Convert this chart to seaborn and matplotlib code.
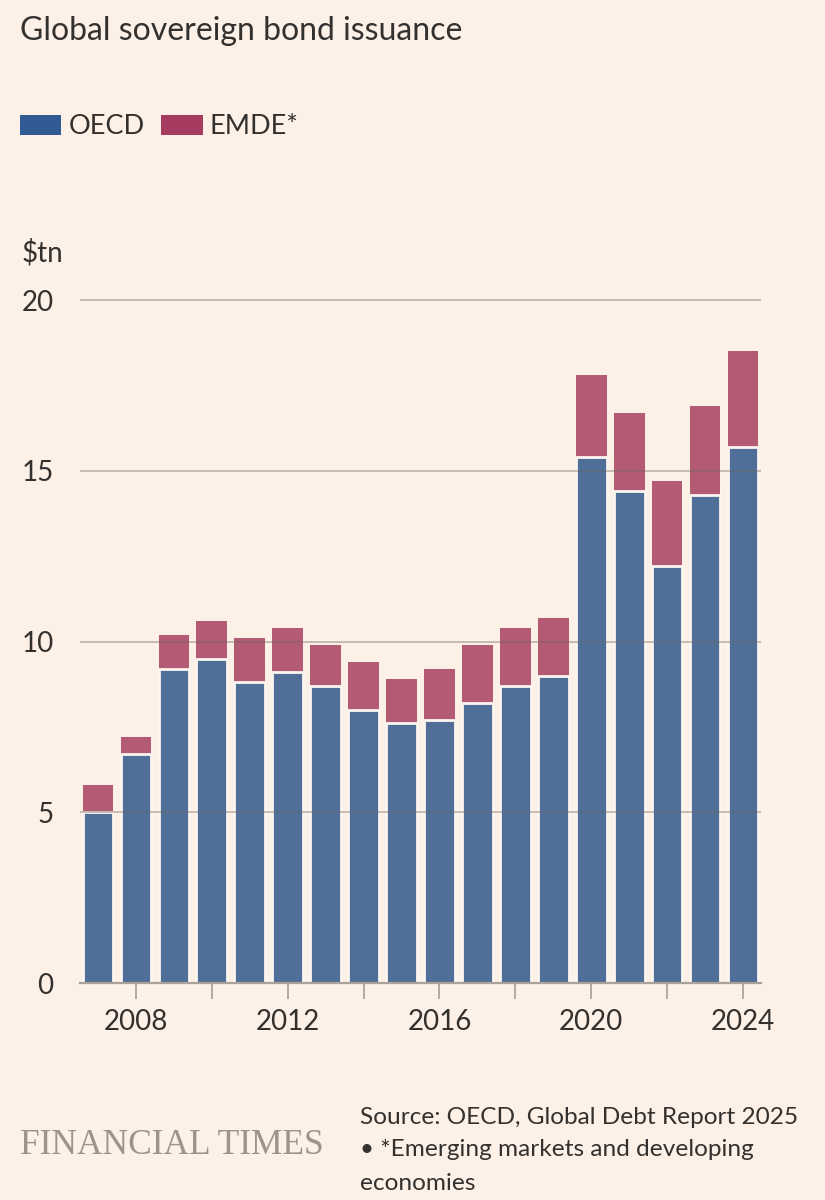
import matplotlib
matplotlib.use("Agg")
import matplotlib.pyplot as plt
from matplotlib.patches import Patch
import seaborn as sns
import pandas as pd

# ---- data ----
years = [2007, 2008, 2009, 2010, 2011, 2012, 2013, 2014, 2015,
         2016, 2017, 2018, 2019, 2020, 2021, 2022, 2023, 2024]
oecd = [5.0, 6.7, 9.2, 9.5, 8.8, 9.1, 8.7, 8.0, 7.6,
        7.7, 8.2, 8.7, 9.0, 15.4, 14.4, 12.2, 14.3, 15.7]
emde = [0.8, 0.5, 1.0, 1.1, 1.3, 1.3, 1.2, 1.4, 1.3,
        1.5, 1.7, 1.7, 1.7, 2.4, 2.3, 2.5, 2.6, 2.8]
y_ticks = [0, 5, 10, 15, 20]
series_names = ["OECD", "EMDE*"]

BG = "#fcf0e7"
TXT = "#33302e"
BLUE_BAR = "#4f6f99"
RED_BAR = "#b35b74"
BLUE_KEY = "#2f5a94"
RED_KEY = "#a63a5f"

df = pd.DataFrame({
    "year": [str(y) for y in years],
    "OECD": oecd,
    "EMDE": emde,
})
df["total"] = df["OECD"] + df["EMDE"]

sns.set_theme(style="white")
plt.rcParams["font.family"] = ["Lato", "DejaVu Sans"]

fig = plt.figure(figsize=(8.25, 12), dpi=100, facecolor=BG)
ax = fig.add_axes([80 / 825, 1 - 983 / 1200, (761 - 80) / 825, (983 - 289.8) / 1200])
ax.set_facecolor(BG)

sns.barplot(data=df, x="year", y="total", color=RED_BAR, saturation=1,
            width=0.81, ax=ax, linewidth=0, zorder=1)
sns.barplot(data=df, x="year", y="OECD", color=BLUE_BAR, saturation=1,
            width=0.81, ax=ax, edgecolor="#fdf6f0", linewidth=2.0, zorder=1.2)

ax.set_xlim(-0.475, len(years) - 1 + 0.475)
ax.set_ylim(0, 20.3)
ax.set_xlabel("")
ax.set_ylabel("")

# grid drawn over bars
ax.set_axisbelow(False)
ax.yaxis.grid(True, color="#6f665e", alpha=0.38, linewidth=1.4)
ax.xaxis.grid(False)
ax.set_yticks(y_ticks)
ax.set_yticklabels([str(t) for t in y_ticks])
ax.tick_params(axis="y", length=0, pad=19, labelsize=20, labelcolor=TXT)

pos = list(range(1, len(years), 2))
ax.set_xticks(pos)
ax.set_xticklabels([str(years[i]) if years[i] % 4 == 0 else "" for i in pos])
ax.tick_params(axis="x", length=11.5, width=1.2, color="#a59d96",
               pad=7, labelsize=20, labelcolor=TXT, bottom=True)

for s in ["left", "right", "top"]:
    ax.spines[s].set_visible(False)
ax.spines["bottom"].set_color("#aaa29a")
ax.spines["bottom"].set_linewidth(1.6)
ax.spines["bottom"].set_zorder(3)

# title and unit
fig.text(20 / 825, 1 - 31 / 1200, "Global sovereign bond issuance",
         fontsize=23, color=TXT, va="center", ha="left")
fig.text(22 / 825, 1 - 253 / 1200, "$tn", fontsize=20, color=TXT,
         va="center", ha="left")

handles = [Patch(facecolor=BLUE_KEY, edgecolor="none"),
           Patch(facecolor=RED_KEY, edgecolor="none")]
fig.legend(handles, series_names, loc="center left",
           bbox_to_anchor=(20 / 825, 1 - 127 / 1200), ncol=2, frameon=False,
           fontsize=19.5, handlelength=1.52, handleheight=0.74,
           handletextpad=0.27, columnspacing=0.62, borderpad=0,
           borderaxespad=0, labelcolor=TXT)

# footer
fig.text(20 / 825, 1 - 1146 / 1200, "FINANCIAL TIMES",
         family=["Liberation Serif", "DejaVu Serif"], fontsize=25.5,
         color="#9b938c", va="center", ha="left")
fig.text(360 / 825, 1 - 1118 / 1200, "Source: OECD, Global Debt Report 2025",
         fontsize=17.6, color=TXT, va="center", ha="left")
fig.text(360 / 825, 1 - 1150 / 1200, "\u2022 *Emerging markets and developing",
         fontsize=17.6, color=TXT, va="center", ha="left")
fig.text(360 / 825, 1 - 1183 / 1200, "economies",
         fontsize=17.6, color=TXT, va="center", ha="left")

fig.savefig("out.png", dpi=100, facecolor=BG)
